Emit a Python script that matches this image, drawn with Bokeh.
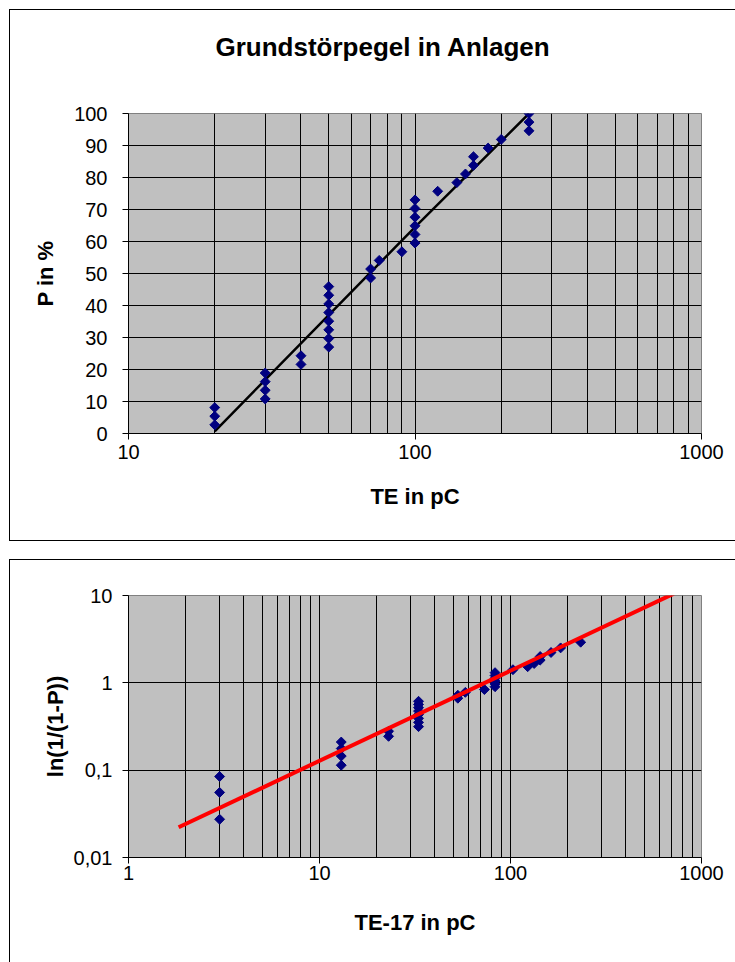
from bokeh.plotting import figure
from bokeh.models import (LogTicker, FixedTicker, CustomJSTickFormatter, Range1d, Title)
from bokeh.layouts import column
from bokeh.embed import file_html
from bokeh.resources import INLINE

# ---------------- data ----------------
# top chart: TE in pC vs cumulative P in %
te_pc = [20, 20, 20,
         30, 30, 30, 30,
         40, 40,
         50, 50, 50, 50, 50, 50, 50, 50,
         70, 70, 75, 90,
         100, 100, 100, 100, 100, 100,
         120, 140, 150, 160, 160, 180, 200,
         250, 250, 250]
p_percent = [2.7, 5.4, 8.1,
             10.8, 13.5, 16.2, 18.9,
             21.6, 24.3,
             27.0, 29.7, 32.4, 35.1, 37.8, 40.5, 43.2, 45.9,
             48.6, 51.4, 54.1, 56.8,
             59.5, 62.2, 64.9, 67.6, 70.3, 73.0,
             75.7, 78.4, 81.1, 83.8, 86.5, 89.2, 91.9,
             94.6, 97.3, 100.0]
fit_top_te = [20, 100, 250]
fit_top_p = [0.7, 64.5, 100.0]
top_y_ticks = [0, 10, 20, 30, 40, 50, 60, 70, 80, 90, 100]
top_x_ticks = [10, 100, 1000]
top_x_minor = [20, 30, 40, 50, 60, 70, 80, 90,
               200, 300, 400, 500, 600, 700, 800, 900]

# bottom chart: TE-17 in pC vs ln(1/(1-P))
te17_pc = [3, 3, 3,
           13, 13, 13, 13,
           23, 23,
           33, 33, 33, 33, 33, 33, 33, 33,
           53, 53, 58, 73,
           83, 83, 83, 83, 83, 83,
           103, 123, 133, 143, 143, 163, 183,
           233]
ln_inv = [0.0274, 0.0556, 0.0846,
          0.114, 0.145, 0.177, 0.210,
          0.244, 0.279,
          0.315, 0.353, 0.392, 0.433, 0.475, 0.520, 0.566, 0.615,
          0.666, 0.721, 0.778, 0.838,
          0.903, 0.972, 1.046, 1.126, 1.213, 1.308,
          1.414, 1.531, 1.665, 1.819, 2.001, 2.225, 2.512,
          2.918]
fit_bot_x = [1.83, 716]
fit_bot_y = [0.0222, 10.5]

TITLE = "Grundstörpegel in Anlagen"
FONT = "Liberation Sans"
BG = "#C0C0C0"
NAVY = "#000080"

fmt = CustomJSTickFormatter(code="return Number(tick.toPrecision(6)).toString().replace('.', ',');")


def style(p):
    p.background_fill_color = BG
    p.border_fill_color = None
    p.outline_line_color = "#808080"
    p.outline_line_width = 1
    for g in (p.xgrid, p.ygrid):
        g.grid_line_color = "black"
        g.grid_line_width = 1
    p.xgrid.minor_grid_line_color = "black"
    p.xgrid.minor_grid_line_width = 1
    for ax in (p.xaxis, p.yaxis):
        ax.axis_line_color = "black"
        ax.axis_line_width = 1
        ax.major_tick_line_color = "black"
        ax.major_tick_out = 6
        ax.major_tick_in = 0
        ax.minor_tick_line_color = None
        ax.major_label_text_font = FONT
        ax.major_label_text_font_size = "20px"
        ax.major_label_text_color = "black"
        ax.axis_label_text_font = FONT
        ax.axis_label_text_font_size = "22px"
        ax.axis_label_text_font_style = "bold"
        ax.axis_label_text_color = "black"


# ---------------- top chart ----------------
p1 = figure(width=735, height=550, x_axis_type="log",
            x_range=Range1d(10, 1000), y_range=Range1d(0, 100),
            output_backend="svg", toolbar_location=None,
            min_border_left=123, min_border_right=27,
            min_border_top=113, min_border_bottom=117,
            styles={"box-shadow": "inset 9px 9px 0 0 white, inset 0 -9px 0 0 white, "
                                  "inset 10px 10px 0 0 black, inset 0 -10px 0 0 black",
                    "background-color": "white"})
style(p1)
# spacer between the frame and the chart title (keeps the title high up)
p1.add_layout(Title(text=" ", text_font_size="10px", standoff=38), "above")
p1.title.text = TITLE
p1.title.align = "left"
p1.title.offset = 87
p1.title.standoff = 2
p1.title.text_font = FONT
p1.title.text_font_size = "26px"
p1.title.text_font_style = "bold"
p1.title.text_color = "black"

p1.xaxis.ticker = FixedTicker(ticks=top_x_ticks, minor_ticks=top_x_minor)
p1.xaxis.formatter = fmt
p1.yaxis.ticker = top_y_ticks
p1.xaxis.axis_label = "TE in pC"
p1.yaxis.axis_label = "P in %"
p1.xaxis.major_label_standoff = 5
p1.xaxis.axis_label_standoff = 22
p1.yaxis.major_label_standoff = 15
p1.yaxis.axis_label_standoff = 13

p1.line(fit_top_te, fit_top_p, line_color="black", line_width=2.5)
p1.scatter(te_pc, p_percent, marker="square", angle=0.785398, size=7,
           fill_color=NAVY, line_color=NAVY)

# ---------------- bottom chart ----------------
p2 = figure(width=735, height=412, x_axis_type="log", y_axis_type="log",
            x_range=Range1d(1, 1000), y_range=Range1d(0.01, 10),
            output_backend="svg", toolbar_location=None,
            min_border_left=128, min_border_right=34,
            min_border_top=45, min_border_bottom=105,
            styles={"box-shadow": "inset 9px 9px 0 0 white, inset 10px 10px 0 0 black",
                    "background-color": "white"})
style(p2)
p2.xaxis.ticker = LogTicker(num_minor_ticks=10)
p2.yaxis.ticker = LogTicker(num_minor_ticks=10)
p2.xaxis.formatter = fmt
p2.yaxis.formatter = fmt
p2.xaxis.axis_label = "TE-17 in pC"
p2.yaxis.axis_label = "ln(1/(1-P))"
p2.xaxis.major_label_standoff = 2
p2.xaxis.axis_label_standoff = 27
p2.yaxis.major_label_standoff = 10
p2.yaxis.axis_label_standoff = 3

p2.scatter(te17_pc, ln_inv, marker="square", angle=0.785398, size=7,
           fill_color=NAVY, line_color=NAVY)
p2.line(fit_bot_x, fit_bot_y, line_color="#FF0000", line_width=4)

layout = column(p1, p2, spacing=0)
open("out.html", "w").write(file_html(layout, INLINE))
